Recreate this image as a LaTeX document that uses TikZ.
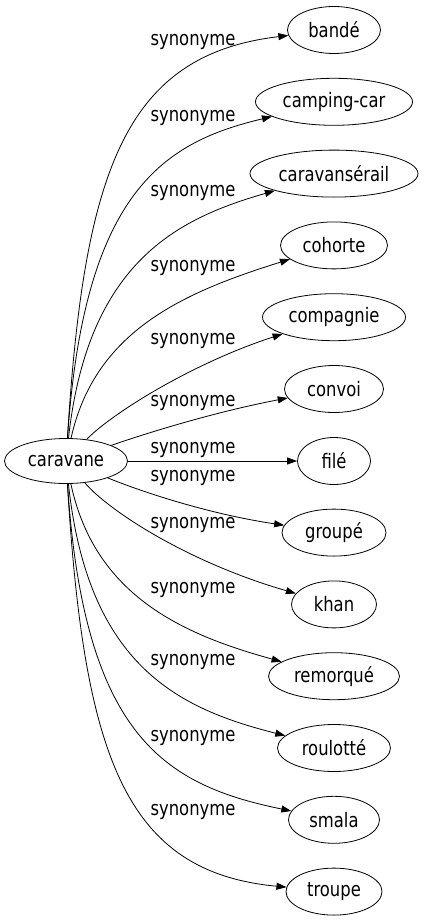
\documentclass[tikz,border=0pt]{standalone}
\usepackage{fontspec}
\setmainfont{DejaVu Sans}[FakeStretch=0.82]
\usepackage{tikz}
\usetikzlibrary{arrows.meta}
\usetikzlibrary{shapes.geometric}

\begin{document}
\begin{tikzpicture}[ x=1pt, y=-1pt,
      every node/.style={color=black, font=\fontsize{20}{22}\selectfont},
      word/.style={ draw, ellipse, line width=0.8pt, inner sep=1pt, minimum height=47pt},
      rel/.style={ inner sep=0pt},
      edge/.style={ line width=0.8pt, -{Triangle[length=10pt,width=7pt]}}
      ]
      \useasboundingbox (0,0) rectangle (423,923);

      % source
      \node[word, minimum width=123pt, minimum height=45pt] (Caravane) at (66,461) {caravane};

      % targets
      \node[word, minimum width=93pt]  (Bande)         at (334,30)    {bandé};
      \node[word, minimum width=157pt] (CampingCar)    at (334,101.8) {camping-car};
      \node[word, minimum width=168pt] (Caravanserail) at (334,173.6) {caravansérail};
      \node[word, minimum width=107pt] (Cohorte)       at (334,245.4) {cohorte};
      \node[word, minimum width=143pt] (Compagnie)     at (334,317.2) {compagnie};
      \node[word, minimum width=99pt]  (Convoi)        at (334,389)   {convoi};
      \node[word, minimum width=73pt]  (File)          at (334,461)   {filé};
      \node[word, minimum width=104pt] (Groupe)        at (334,532.6) {groupé};
      \node[word, minimum width=85pt]  (Khan)          at (334,604.4) {khan};
      \node[word, minimum width=131pt] (Remorque)      at (334,676.2) {remorqué};
      \node[word, minimum width=113pt] (Roulotte)      at (334,748)   {roulotté};
      \node[word, minimum width=91pt]  (Smala)         at (334,819.8) {smala};
      \node[word, minimum width=96pt]  (Troupe)        at (334,891.6) {troupe};

      % labels
      \node[rel] (LBande)         at (193,42)  {synonyme};
      \node[rel] (LCampingCar)    at (193,118) {synonyme};
      \node[rel] (LCaravanserail) at (193,193) {synonyme};
      \node[rel] (LCohorte)       at (193,268) {synonyme};
      \node[rel] (LCompagnie)     at (193,341) {synonyme};
      \node[rel] (LConvoi)        at (193,403) {synonyme};
      \node[rel] (LFile)          at (193,450) {synonyme};
      \node[rel] (LGroupe)        at (193,478) {synonyme};
      \node[rel] (LKhan)          at (193,525) {synonyme};
      \node[rel] (LRemorque)      at (193,590) {synonyme};
      \node[rel] (LRoulotte)      at (193,662) {synonyme};
      \node[rel] (LSmala)         at (193,738) {synonyme};
      \node[rel] (LTroupe)        at (193,812) {synonyme};

      % edges
      \draw[edge] (Caravane) .. controls (84,170) and (125,55) .. (Bande);
      \draw[edge] (Caravane) .. controls (84,190) and (165,142) .. (CampingCar);
      \draw[edge] (Caravane) .. controls (88,260) and (180,218) .. (Caravanserail);
      \draw[edge] (Caravane) .. controls (95,330) and (185,292) .. (Cohorte);
      \draw[edge] (Caravane) .. controls (110,415) and (190,364) .. (Compagnie);
      \draw[edge] (Caravane) .. controls (150,432) and (215,412) .. (Convoi);
      \draw[edge] (Caravane) -- (File);
      \draw[edge] (Caravane) .. controls (150,495) and (215,515) .. (Groupe);
      \draw[edge] (Caravane) .. controls (110,512) and (190,563) .. (Khan);
      \draw[edge] (Caravane) .. controls (95,597) and (185,635) .. (Remorque);
      \draw[edge] (Caravane) .. controls (88,667) and (180,709) .. (Roulotte);
      \draw[edge] (Caravane) .. controls (84,737) and (165,785) .. (Smala);
      \draw[edge] (Caravane) .. controls (84,757) and (125,872) .. (Troupe);
    \end{tikzpicture}
\end{document}
